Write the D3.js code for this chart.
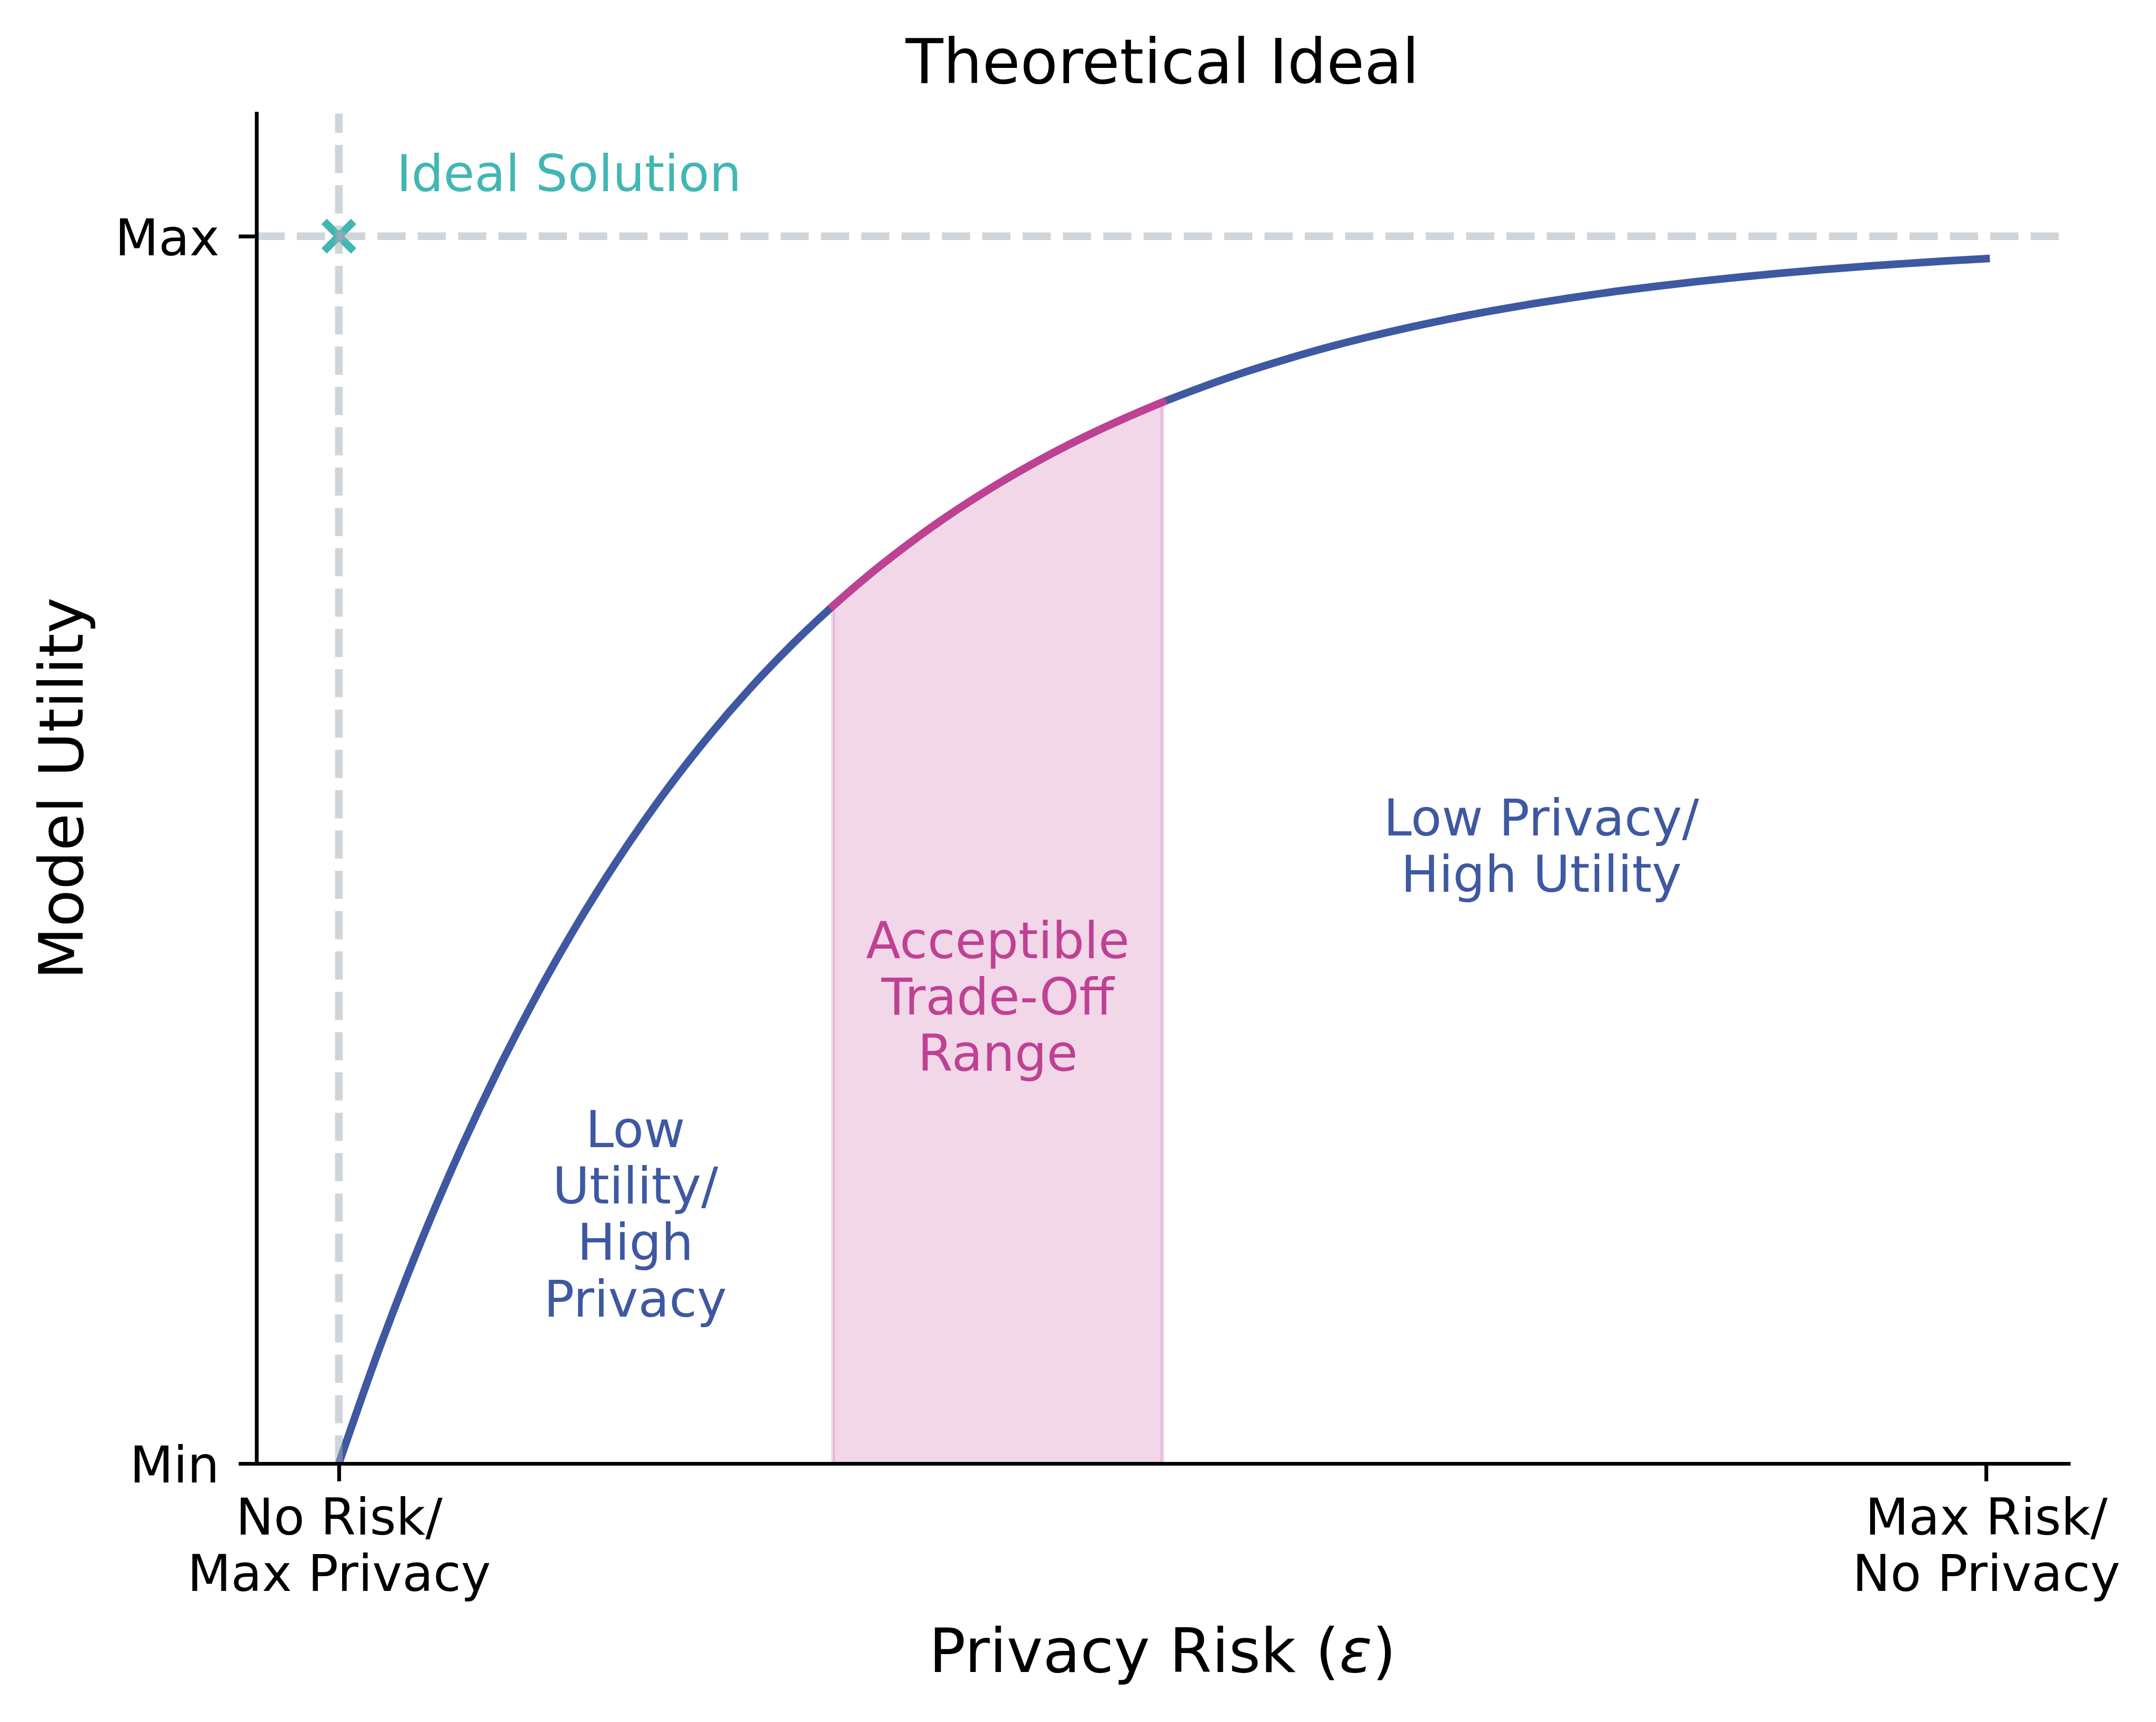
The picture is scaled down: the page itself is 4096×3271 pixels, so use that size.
<!DOCTYPE html>
<html>
<head>
<meta charset="utf-8">
<script src="https://cdn.jsdelivr.net/npm/d3@7"></script>
<style>
  html, body { margin: 0; padding: 0; background: #ffffff; }
  svg { display: block; }
  text { font-family: "DejaVu Sans", sans-serif; }
</style>
</head>
<body>
<script>
// ---------------- DATA ----------------
const curveX = [0, 0.025, 0.05, 0.075, 0.1, 0.125, 0.15, 0.175, 0.2, 0.225, 0.25, 0.275, 0.3, 0.325, 0.35, 0.375, 0.4, 0.425, 0.45, 0.475, 0.5, 0.525, 0.55, 0.575, 0.6, 0.625, 0.65, 0.675, 0.7, 0.725, 0.75, 0.775, 0.8, 0.825, 0.85, 0.875, 0.9, 0.925, 0.95, 0.975, 1.0];
const curveY = [0, 0.0952, 0.1813, 0.2592, 0.3297, 0.3935, 0.4512, 0.5034, 0.5507, 0.5934, 0.6321, 0.6671, 0.6988, 0.7275, 0.7534, 0.7769, 0.7981, 0.8173, 0.8347, 0.8504, 0.8647, 0.8775, 0.8892, 0.8997, 0.9093, 0.9179, 0.9257, 0.9328, 0.9392, 0.9450, 0.9502, 0.9550, 0.9592, 0.9631, 0.9666, 0.9698, 0.9727, 0.9753, 0.9776, 0.9798, 0.9817];
const tradeOffRange = [0.3, 0.5];
const idealPoint = [0, 1];
const xDomain = [-0.05, 1.05];
const yDomain = [0, 1.1];
const xTickValues = [0, 1];
const xTickLabels = ["No Risk/\nMax Privacy", "Max Risk/\nNo Privacy"];
const yTickValues = [0, 1];
const yTickLabels = ["Min", "Max"];
const titleText = "Theoretical Ideal";
const xLabelText = "Privacy Risk (";
const xLabelSymbol = "ε";
const yLabelText = "Model Utility";
const annotationTexts = ["Ideal Solution", "Low\nUtility/\nHigh\nPrivacy", "Acceptible\nTrade-Off\nRange", "Low Privacy/\nHigh Utility"];
const annotationX = [0.035, 0.18, 0.4, 0.73];
const annotationY = [1.048, 0.2, 0.377, 0.5];

// ---------------- STYLE / LAYOUT ----------------
const W = 4096, H = 3271;
const C = {
  blue: "#3e58a1",
  magenta: "#bf4193",
  teal: "#40b7b3",
  dash: "#a1abb3",
  black: "#000000"
};
const annotationColors = [C.teal, C.blue, C.magenta, C.blue];
const annotationAnchors = ["start", "middle", "middle", "middle"];

const plot = { left: 487.3, right: 3929.6, top: 215.5, bottom: 2780.0 };
const lineW = 14.5;
const spineW = 7.2;
const tickLen = 33.8;
const fsTick = 96;
const fsLabel = 116;
const fsTitle = 117;
const lineStep = 107.4;

const svg = d3.select("body").append("svg")
  .attr("width", W).attr("height", H)
  .attr("viewBox", `0 0 ${W} ${H}`);
svg.append("rect").attr("width", W).attr("height", H).attr("fill", "#ffffff");

const x = d3.scaleLinear().domain(xDomain).range([plot.left, plot.right]);
const y = d3.scaleLinear().domain(yDomain).range([plot.bottom, plot.top]);

svg.append("defs").append("clipPath").attr("id", "clip")
  .append("rect")
  .attr("x", plot.left).attr("y", plot.top)
  .attr("width", plot.right - plot.left).attr("height", plot.bottom - plot.top);

const pts = curveX.map((v, i) => ({ x: v, y: curveY[i] }));
const seg = pts.filter(p => p.x >= tradeOffRange[0] - 1e-9 && p.x <= tradeOffRange[1] + 1e-9);

const g = svg.append("g").attr("clip-path", "url(#clip)");

// shaded trade-off range
const area = d3.area().x(d => x(d.x)).y0(y(0)).y1(d => y(d.y)).curve(d3.curveMonotoneX);
g.append("path").datum(seg)
  .attr("d", area)
  .attr("fill", C.magenta).attr("fill-opacity", 0.21)
  .attr("stroke", C.magenta).attr("stroke-opacity", 0.21)
  .attr("stroke-width", spineW);

// main curve
const line = d3.line().x(d => x(d.x)).y(d => y(d.y)).curve(d3.curveMonotoneX);
g.append("path").datum(pts)
  .attr("d", line)
  .attr("fill", "none").attr("stroke", C.blue)
  .attr("stroke-width", lineW)
  .attr("stroke-linecap", "square").attr("stroke-linejoin", "round");

// highlighted segment
g.append("path").datum(seg)
  .attr("d", line)
  .attr("fill", "none").attr("stroke", C.magenta)
  .attr("stroke-width", lineW)
  .attr("stroke-linecap", "square").attr("stroke-linejoin", "round");

// ideal marker (x)
const mx = x(idealPoint[0]), my = y(idealPoint[1]);
const ms = 28;
g.append("path")
  .attr("d", `M${mx - ms},${my - ms}L${mx + ms},${my + ms}M${mx - ms},${my + ms}L${mx + ms},${my - ms}`)
  .attr("stroke", C.teal).attr("stroke-width", lineW)
  .attr("stroke-linecap", "butt").attr("fill", "none");

// reference dashed lines
const dashArr = "53.5,23.1";
g.append("line")
  .attr("x1", x(idealPoint[0])).attr("x2", x(idealPoint[0]))
  .attr("y1", plot.bottom).attr("y2", plot.top)
  .attr("stroke", C.dash).attr("stroke-opacity", 0.5)
  .attr("stroke-width", lineW).attr("stroke-dasharray", dashArr);
g.append("line")
  .attr("x1", plot.left).attr("x2", plot.right)
  .attr("y1", y(idealPoint[1])).attr("y2", y(idealPoint[1]))
  .attr("stroke", C.dash).attr("stroke-opacity", 0.5)
  .attr("stroke-width", lineW).attr("stroke-dasharray", dashArr);

// axes
const xAxis = d3.axisBottom(x).tickValues(xTickValues).tickFormat("").tickSize(tickLen).tickSizeOuter(0);
const yAxis = d3.axisLeft(y).tickValues(yTickValues).tickFormat("").tickSize(tickLen).tickSizeOuter(0);

const gx = svg.append("g").attr("transform", `translate(0,${plot.bottom})`).call(xAxis);
const gy = svg.append("g").attr("transform", `translate(${plot.left},0)`).call(yAxis);
[gx, gy].forEach(a => {
  a.selectAll("path.domain").attr("stroke", C.black).attr("stroke-width", spineW).attr("stroke-linecap", "square");
  a.selectAll(".tick line").attr("stroke", C.black).attr("stroke-width", spineW);
  a.selectAll(".tick text").remove();
});

// y tick labels
gy.selectAll(".tick").each(function(d, i) {
  d3.select(this).append("text")
    .attr("x", -(tickLen + 36.6)).attr("y", 0).attr("dy", 35.6)
    .attr("text-anchor", "end")
    .attr("font-size", fsTick).attr("fill", C.black)
    .text(yTickLabels[yTickValues.indexOf(d)]);
});
// x tick labels
gx.selectAll(".tick").each(function(d) {
  const lines = xTickLabels[xTickValues.indexOf(d)].split("\n");
  const t = d3.select(this).append("text")
    .attr("text-anchor", "middle")
    .attr("font-size", fsTick).attr("fill", C.black);
  lines.forEach((ln, j) => {
    t.append("tspan").attr("x", 0).attr("y", 134.6 + j * lineStep).text(ln);
  });
});

// annotations
annotationTexts.forEach((txt, i) => {
  const lines = txt.split("\n");
  const fs = fsTick;
  const asc = 0.76 * fs, desc = 0.22 * fs;
  const blockH = (lines.length - 1) * lineStep + asc + desc;
  const top = y(annotationY[i]) - blockH / 2;
  const t = svg.append("text")
    .attr("text-anchor", annotationAnchors[i])
    .attr("font-size", fs).attr("fill", annotationColors[i]);
  lines.forEach((ln, j) => {
    t.append("tspan").attr("x", x(annotationX[i])).attr("y", top + asc + j * lineStep).text(ln);
  });
});

// title & axis labels
const cx = (plot.left + plot.right) / 2;
svg.append("text").attr("x", cx).attr("y", 158.1)
  .attr("text-anchor", "middle").attr("font-size", fsTitle).attr("fill", C.black)
  .text(titleText);

const xl = svg.append("text").attr("x", cx).attr("y", 3175.9)
  .attr("text-anchor", "middle").attr("font-size", fsLabel).attr("fill", C.black);
xl.append("tspan").text(xLabelText);
xl.append("tspan").attr("font-style", "italic").text(xLabelSymbol);
xl.append("tspan").text(")");

svg.append("text")
  .attr("transform", `translate(156.7,${(plot.top + plot.bottom) / 2}) rotate(-90)`)
  .attr("text-anchor", "middle").attr("font-size", fsLabel).attr("fill", C.black)
  .text(yLabelText);
</script>
</body>
</html>
